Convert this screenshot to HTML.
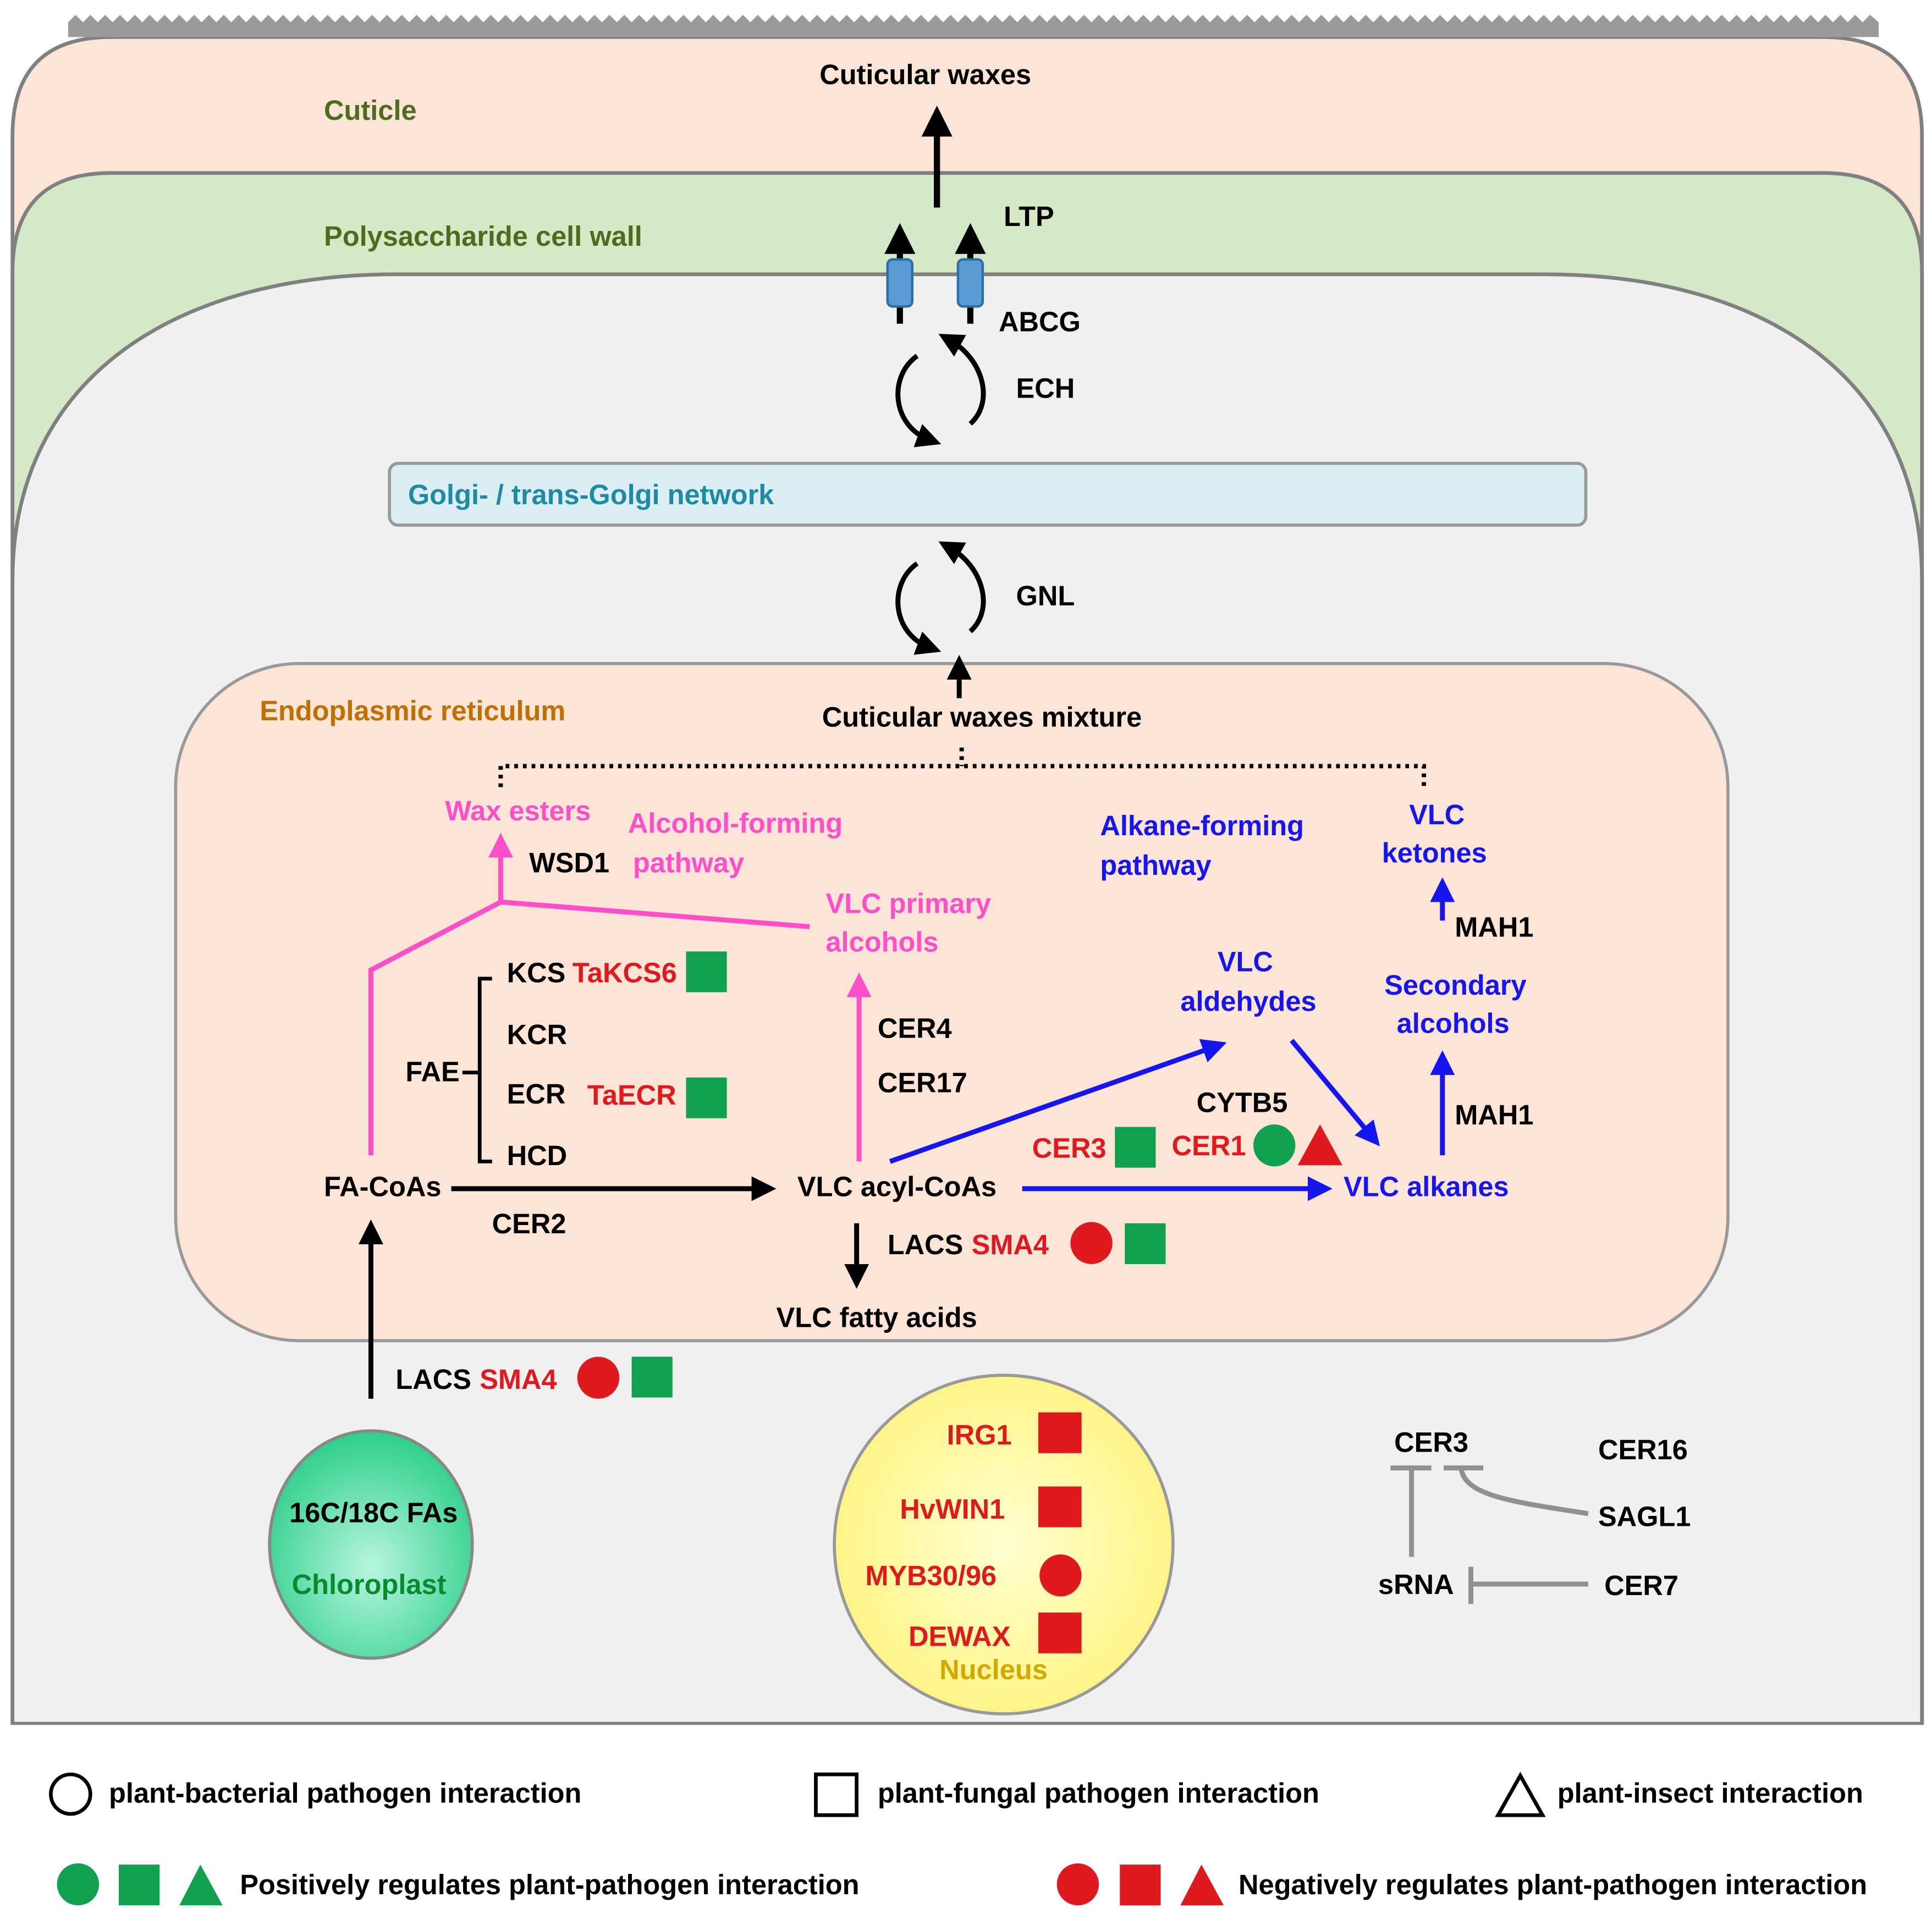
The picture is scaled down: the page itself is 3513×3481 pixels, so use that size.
<!DOCTYPE html>
<html><head><meta charset="utf-8"><style>html,body{margin:0;padding:0;background:#fff}svg{display:block}text{font-family:"Liberation Sans",sans-serif;font-weight:bold;font-size:22.5px}</style></head>
<body>
<svg width="3513" height="3481" viewBox="0 0 1563 1549" xmlns="http://www.w3.org/2000/svg">
<defs>
<marker id="ak" viewBox="0 0 10 10" refX="5" refY="5" markerWidth="5" markerHeight="5" orient="auto"><path d="M0,0L10,5L0,10z" fill="#000"/></marker>
<marker id="ap" viewBox="0 0 10 10" refX="5" refY="5" markerWidth="5" markerHeight="5" orient="auto"><path d="M0,0L10,5L0,10z" fill="#ff4fc8"/></marker>
<marker id="ab" viewBox="0 0 10 10" refX="5" refY="5" markerWidth="5" markerHeight="5" orient="auto"><path d="M0,0L10,5L0,10z" fill="#1515ee"/></marker>
<radialGradient id="cg" cx="50%" cy="60%" r="60%"><stop offset="0" stop-color="#b8f5e0"/><stop offset="1" stop-color="#2ecf8a"/></radialGradient>
<radialGradient id="ng" cx="50%" cy="50%" r="60%"><stop offset="0" stop-color="#ffffd0"/><stop offset="1" stop-color="#fff27a"/></radialGradient>
</defs>
<rect width="1563" height="1549" fill="#fff"/>
<path d="M10,1395 V110 Q10,30 90,30 H1475 Q1555,30 1555,110 V1395 Z" fill="#fce4d6" stroke="#808080" stroke-width="3"/>
<path d="M55,30 L55,18 L61,12 L67,18 L73,12 L79,18 L85,12 L91,18 L97,12 L103,18 L109,12 L115,18 L121,12 L127,18 L133,12 L139,18 L145,12 L151,18 L157,12 L163,18 L169,12 L175,18 L181,12 L187,18 L193,12 L199,18 L205,12 L211,18 L217,12 L223,18 L229,12 L235,18 L241,12 L247,18 L253,12 L259,18 L265,12 L271,18 L277,12 L283,18 L289,12 L295,18 L301,12 L307,18 L313,12 L319,18 L325,12 L331,18 L337,12 L343,18 L349,12 L355,18 L361,12 L367,18 L373,12 L379,18 L385,12 L391,18 L397,12 L403,18 L409,12 L415,18 L421,12 L427,18 L433,12 L439,18 L445,12 L451,18 L457,12 L463,18 L469,12 L475,18 L481,12 L487,18 L493,12 L499,18 L505,12 L511,18 L517,12 L523,18 L529,12 L535,18 L541,12 L547,18 L553,12 L559,18 L565,12 L571,18 L577,12 L583,18 L589,12 L595,18 L601,12 L607,18 L613,12 L619,18 L625,12 L631,18 L637,12 L643,18 L649,12 L655,18 L661,12 L667,18 L673,12 L679,18 L685,12 L691,18 L697,12 L703,18 L709,12 L715,18 L721,12 L727,18 L733,12 L739,18 L745,12 L751,18 L757,12 L763,18 L769,12 L775,18 L781,12 L787,18 L793,12 L799,18 L805,12 L811,18 L817,12 L823,18 L829,12 L835,18 L841,12 L847,18 L853,12 L859,18 L865,12 L871,18 L877,12 L883,18 L889,12 L895,18 L901,12 L907,18 L913,12 L919,18 L925,12 L931,18 L937,12 L943,18 L949,12 L955,18 L961,12 L967,18 L973,12 L979,18 L985,12 L991,18 L997,12 L1003,18 L1009,12 L1015,18 L1021,12 L1027,18 L1033,12 L1039,18 L1045,12 L1051,18 L1057,12 L1063,18 L1069,12 L1075,18 L1081,12 L1087,18 L1093,12 L1099,18 L1105,12 L1111,18 L1117,12 L1123,18 L1129,12 L1135,18 L1141,12 L1147,18 L1153,12 L1159,18 L1165,12 L1171,18 L1177,12 L1183,18 L1189,12 L1195,18 L1201,12 L1207,18 L1213,12 L1219,18 L1225,12 L1231,18 L1237,12 L1243,18 L1249,12 L1255,18 L1261,12 L1267,18 L1273,12 L1279,18 L1285,12 L1291,18 L1297,12 L1303,18 L1309,12 L1315,18 L1321,12 L1327,18 L1333,12 L1339,18 L1345,12 L1351,18 L1357,12 L1363,18 L1369,12 L1375,18 L1381,12 L1387,18 L1393,12 L1399,18 L1405,12 L1411,18 L1417,12 L1423,18 L1429,12 L1435,18 L1441,12 L1447,18 L1453,12 L1459,18 L1465,12 L1471,18 L1477,12 L1483,18 L1489,12 L1495,18 L1501,12 L1507,18 L1513,12 L1520,18 L1520,30 Z" fill="#9a9a9a"/>
<path d="M10,1395 V220 Q10,140 90,140 H1475 Q1555,140 1555,220 V1395 Z" fill="#d6e9c6" stroke="#808080" stroke-width="3"/>
<path d="M10,1395 V470 C10,300 150,222 320,222 H1250 C1420,222 1555,300 1555,470 V1395 Z" fill="#f0f0f0" stroke="#808080" stroke-width="3"/>
<rect x="0" y="1396" width="1563" height="153" fill="#fff"/>
<text x="262" y="97" fill="#4e6b1f">Cuticle</text>
<text x="262" y="199" fill="#4e6b1f">Polysaccharide cell wall</text>
<text x="663" y="68">Cuticular waxes</text>
<line x1="758" y1="168" x2="758" y2="98" stroke="#000" stroke-width="5" marker-end="url(#ak)"/>
<line x1="728" y1="262" x2="728" y2="193" stroke="#000" stroke-width="5" marker-end="url(#ak)"/>
<line x1="785" y1="262" x2="785" y2="193" stroke="#000" stroke-width="5" marker-end="url(#ak)"/>
<rect x="718" y="210" width="20" height="38" rx="4" fill="#5b9bd5" stroke="#2e6ea8" stroke-width="2"/>
<rect x="775" y="210" width="20" height="38" rx="4" fill="#5b9bd5" stroke="#2e6ea8" stroke-width="2"/>
<text x="812" y="183">LTP</text>
<text x="808" y="268">ABCG</text>
<text x="822" y="322">ECH</text>
<text x="822" y="490">GNL</text>
<path d="M742,288 C718,305 722,345 752,356" fill="none" stroke="#000" stroke-width="4" marker-end="url(#ak)"/>
<path d="M785,343 C805,325 795,290 768,275" fill="none" stroke="#000" stroke-width="4" marker-end="url(#ak)"/>
<path d="M742,456 C718,473 722,513 752,524" fill="none" stroke="#000" stroke-width="4" marker-end="url(#ak)"/>
<path d="M785,511 C805,493 795,458 768,443" fill="none" stroke="#000" stroke-width="4" marker-end="url(#ak)"/>
<rect x="315" y="375" width="968" height="50" rx="7" fill="#daeef3" stroke="#999" stroke-width="2.5"/>
<text x="330" y="408" fill="#1f8ba3">Golgi- / trans-Golgi network</text>
<rect x="142" y="537" width="1256" height="548" rx="100" fill="#fce4d6" stroke="#999" stroke-width="2.5"/>
<line x1="776" y1="565" x2="776" y2="540" stroke="#000" stroke-width="4" marker-end="url(#ak)"/>
<text x="210" y="583" fill="#c07000">Endoplasmic reticulum</text>
<text x="665" y="588">Cuticular waxes mixture</text>
<path d="M405,637 V620 H1152 V637 M778,605 V620" fill="none" stroke="#000" stroke-width="3.5" stroke-dasharray="3,4"/>
<text x="360" y="664" fill="#ff4fc8">Wax esters</text>
<text x="508" y="674" fill="#ff4fc8">Alcohol-forming</text>
<text x="512" y="706" fill="#ff4fc8">pathway</text>
<text x="428" y="706">WSD1</text>
<polyline points="300,935 300,785 405,730 655,750" fill="none" stroke="#ff4fc8" stroke-width="4"/>
<line x1="405" y1="730" x2="405" y2="684" stroke="#ff4fc8" stroke-width="4" marker-end="url(#ap)"/>
<text x="668" y="739" fill="#ff4fc8">VLC primary</text>
<text x="668" y="770" fill="#ff4fc8">alcohols</text>
<line x1="695" y1="940" x2="695" y2="797" stroke="#ff4fc8" stroke-width="4" marker-end="url(#ap)"/>
<text x="710" y="840">CER4</text>
<text x="710" y="884">CER17</text>
<text x="328" y="875">FAE</text>
<path d="M374,868 H388 M398,792 H388 V940 H398" fill="none" stroke="#000" stroke-width="3"/>
<text x="410" y="795">KCS</text>
<text x="410" y="845">KCR</text>
<text x="410" y="893">ECR</text>
<text x="410" y="943">HCD</text>
<text x="463" y="795" fill="#e0191e">TaKCS6</text>
<rect x="555" y="770" width="33" height="33" fill="#10a050"/>
<text x="475" y="894" fill="#e0191e">TaECR</text>
<rect x="555" y="872" width="33" height="33" fill="#10a050"/>
<text x="262" y="968">FA-CoAs</text>
<line x1="365" y1="962" x2="618" y2="962" stroke="#000" stroke-width="4" marker-end="url(#ak)"/>
<text x="398" y="998">CER2</text>
<text x="645" y="968">VLC  acyl-CoAs</text>
<line x1="693" y1="990" x2="693" y2="1033" stroke="#000" stroke-width="4" marker-end="url(#ak)"/>
<text x="718" y="1015">LACS</text>
<text x="786" y="1015" fill="#e0191e">SMA4</text>
<circle cx="883" cy="1006" r="17" fill="#e0191e"/>
<rect x="910" y="990" width="33" height="33" fill="#10a050"/>
<text x="628" y="1074">VLC  fatty acids</text>
<text x="890" y="676" fill="#1515ee">Alkane-forming</text>
<text x="890" y="708" fill="#1515ee">pathway</text>
<text x="1140" y="667" fill="#1515ee">VLC</text>
<text x="1118" y="698" fill="#1515ee">ketones</text>
<line x1="1167" y1="745" x2="1167" y2="720" stroke="#1515ee" stroke-width="4" marker-end="url(#ab)"/>
<text x="1177" y="758">MAH1</text>
<text x="1120" y="805" fill="#1515ee">Secondary</text>
<text x="1130" y="836" fill="#1515ee">alcohols</text>
<line x1="1167" y1="935" x2="1167" y2="860" stroke="#1515ee" stroke-width="4" marker-end="url(#ab)"/>
<text x="1177" y="910">MAH1</text>
<text x="985" y="786" fill="#1515ee">VLC</text>
<text x="955" y="818" fill="#1515ee">aldehydes</text>
<line x1="720" y1="940" x2="983" y2="847" stroke="#1515ee" stroke-width="4" marker-end="url(#ab)"/>
<line x1="1045" y1="842" x2="1110" y2="920" stroke="#1515ee" stroke-width="4" marker-end="url(#ab)"/>
<text x="968" y="900">CYTB5</text>
<text x="835" y="937" fill="#e0191e">CER3</text>
<rect x="902" y="912" width="33" height="33" fill="#10a050"/>
<text x="948" y="935" fill="#e0191e">CER1</text>
<circle cx="1031" cy="927" r="17" fill="#10a050"/>
<polygon points="1050,943 1086,943 1068,910" fill="#e0191e"/>
<line x1="827" y1="962" x2="1068" y2="962" stroke="#1515ee" stroke-width="4" marker-end="url(#ab)"/>
<text x="1087" y="968" fill="#1515ee">VLC alkanes</text>
<line x1="300" y1="1132" x2="300" y2="997" stroke="#000" stroke-width="4" marker-end="url(#ak)"/>
<text x="320" y="1124">LACS</text>
<text x="388" y="1124" fill="#e0191e">SMA4</text>
<circle cx="484" cy="1115" r="17" fill="#e0191e"/>
<rect x="511" y="1098" width="33" height="33" fill="#10a050"/>
<ellipse cx="300" cy="1250" rx="82" ry="92" fill="url(#cg)" stroke="#888" stroke-width="2.5"/>
<text x="234" y="1232">16C/18C FAs</text>
<text x="236" y="1290" fill="#0a8a30">Chloroplast</text>
<circle cx="812" cy="1250" r="137" fill="url(#ng)" stroke="#999" stroke-width="2.5"/>
<text x="766" y="1169" fill="#e0191e">IRG1</text>
<rect x="840" y="1143" width="35" height="33" fill="#e0191e"/>
<text x="728" y="1229" fill="#e0191e">HvWIN1</text>
<rect x="840" y="1203" width="35" height="33" fill="#e0191e"/>
<text x="700" y="1283" fill="#e0191e">MYB30/96</text>
<circle cx="858" cy="1275" r="17" fill="#e0191e"/>
<text x="735" y="1332" fill="#e0191e">DEWAX</text>
<rect x="840" y="1305" width="35" height="33" fill="#e0191e"/>
<text x="760" y="1359" fill="#d4a800">Nucleus</text>
<text x="1128" y="1175">CER3</text>
<text x="1293" y="1181">CER16</text>
<text x="1293" y="1235">SAGL1</text>
<text x="1115" y="1290">sRNA</text>
<text x="1298" y="1291">CER7</text>
<g stroke="#909090" stroke-width="4" fill="none">
<path d="M1142,1260 V1188 M1125,1188 H1158"/>
<path d="M1285,1225 C1220,1215 1185,1210 1182,1188 M1168,1188 H1200"/>
<path d="M1285,1282 H1190 M1190,1268 V1298"/>
</g>
<circle cx="57" cy="1452" r="16" fill="none" stroke="#000" stroke-width="3"/>
<text x="88" y="1459">plant-bacterial pathogen interaction</text>
<rect x="660" y="1436" width="33" height="33" fill="none" stroke="#000" stroke-width="3"/>
<text x="710" y="1459">plant-fungal pathogen interaction</text>
<polygon points="1212,1469 1248,1469 1230,1437" fill="none" stroke="#000" stroke-width="3"/>
<text x="1260" y="1459">plant-insect interaction</text>
<circle cx="63" cy="1525" r="17" fill="#10a050"/>
<rect x="96" y="1509" width="33" height="33" fill="#10a050"/>
<polygon points="145,1542 180,1542 162,1509" fill="#10a050"/>
<text x="194" y="1533">Positively regulates plant-pathogen interaction</text>
<circle cx="872" cy="1525" r="17" fill="#e0191e"/>
<rect x="906" y="1509" width="33" height="33" fill="#e0191e"/>
<polygon points="955,1542 990,1542 972,1509" fill="#e0191e"/>
<text x="1002" y="1533">Negatively regulates plant-pathogen interaction</text>
</svg>
</body></html>
